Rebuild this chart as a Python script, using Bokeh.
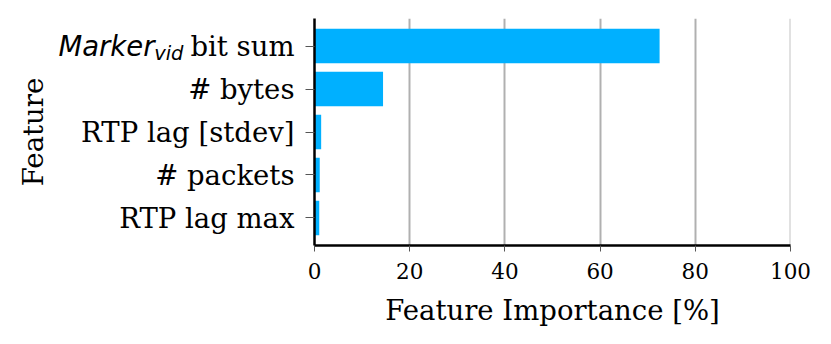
import math
from bokeh.plotting import figure
from bokeh.layouts import row
from bokeh.models import Range1d, FixedTicker, ColumnDataSource
from bokeh.core.properties import value
from bokeh.embed import file_html
from bokeh.resources import INLINE

# ---- data ----
features = ["Marker_vid bit sum", "# bytes", "RTP lag [stdev]", "# packets", "RTP lag max"]
importance = [72.5, 14.4, 1.4, 1.1, 1.0]
x_ticks = [0, 20, 40, 60, 80, 100]
first_label_parts = ["Marker", "vid", "bit sum"]
x_title = "Feature Importance [%]"
y_title = "Feature"

n = len(features)
ys = [n - 1 - i for i in range(n)]

src = ColumnDataSource(dict(y=ys, v=importance, name=features))

SERIF = "DejaVu Serif"
SANS = "DejaVu Sans"
BAR = "#00b0ff"
H = 336
TOP = 18
BOTTOM = 91
LEFT_W = 296

y_range = Range1d(-0.64, n - 1 + 0.64)
x_range = Range1d(x_ticks[0], x_ticks[-1])

# ---------- main plot ----------
p = figure(width=823 - LEFT_W, height=H, output_backend="svg", toolbar_location=None,
           x_range=x_range, y_range=y_range,
           min_border_left=18, min_border_right=33, min_border_top=TOP,
           min_border_bottom=BOTTOM)

# grid line at the right end of the range (edge of frame)
p.segment(x0=[x_ticks[-1]], x1=[x_ticks[-1]], y0=[y_range.start], y1=[y_range.end],
          line_color="#c4c4c4", line_width=2)

p.hbar(y="y", right="v", left=0, height=0.8, source=src,
       fill_color=BAR, line_color=None)

p.outline_line_color = None
p.background_fill_color = "white"
p.border_fill_color = "white"

p.ygrid.visible = False
p.xgrid.ticker = FixedTicker(ticks=x_ticks)
p.xgrid.grid_line_color = "#b0b0b0"
p.xgrid.grid_line_width = 2

xa = p.xaxis[0]
xa.ticker = FixedTicker(ticks=x_ticks)
xa.axis_line_color = "black"
xa.axis_line_width = 2.5
xa.major_tick_line_color = "#555555"
xa.major_tick_out = 6
xa.major_tick_in = 0
xa.minor_tick_line_color = None
xa.major_label_text_font = SERIF
xa.major_label_text_font_size = "21.5px"
xa.major_label_text_color = "black"
xa.major_label_standoff = 11
xa.axis_label = x_title
xa.axis_label_text_font = SERIF
xa.axis_label_text_font_size = "27.5px"
xa.axis_label_text_font_style = "normal"
xa.axis_label_text_color = "black"
xa.axis_label_standoff = 12

ya = p.yaxis[0]
ya.ticker = FixedTicker(ticks=ys)
ya.major_label_overrides = {y: "" for y in ys}
ya.major_label_text_font_size = "1px"
ya.axis_line_color = "black"
ya.axis_line_width = 2.5
ya.major_tick_line_color = "#555555"
ya.major_tick_out = 9
ya.major_tick_in = 0
ya.minor_tick_line_color = None
ya.major_label_standoff = 0

# ---------- label panel (tick labels + y title) ----------
lf = figure(width=LEFT_W, height=H, output_backend="svg", toolbar_location=None,
            x_range=Range1d(0, LEFT_W), y_range=y_range,
            min_border_left=0, min_border_right=0, min_border_top=TOP,
            min_border_bottom=BOTTOM)
lf.xaxis.visible = False
lf.yaxis.visible = False
lf.grid.visible = False
lf.outline_line_color = None
lf.background_fill_color = "white"
lf.border_fill_color = "white"

lsrc = ColumnDataSource(dict(y=ys[1:], text=features[1:]))
lf.text(x=294, y="y", text="text", source=lsrc, text_align="right",
        text_baseline="middle", text_font=value(SERIF), text_font_size="27.5px",
        text_color="black")

y0 = ys[0]
lf.text(x=[294], y=[y0], text=[first_label_parts[2]], text_align="right",
        text_baseline="middle", text_font=value(SERIF), text_font_size="27.5px",
        text_color="black")
lf.text(x=[183], y=[y0], text=[first_label_parts[1]], y_offset=7, text_align="right",
        text_baseline="middle", text_font=value(SANS), text_font_style="italic",
        text_font_size="19.5px", text_color="black")
lf.text(x=[154], y=[y0], text=[first_label_parts[0]], text_align="right",
        text_baseline="middle", text_font=value(SANS), text_font_style="italic",
        text_font_size="27.5px", text_color="black")

lf.text(x=[32], y=[(n - 1) / 2], text=[y_title], angle=math.pi / 2,
        text_align="center", text_baseline="middle", text_font=value(SERIF),
        text_font_size="27.5px", text_color="black")

layout = row(lf, p)
open("out.html", "w").write(file_html(layout, INLINE))
